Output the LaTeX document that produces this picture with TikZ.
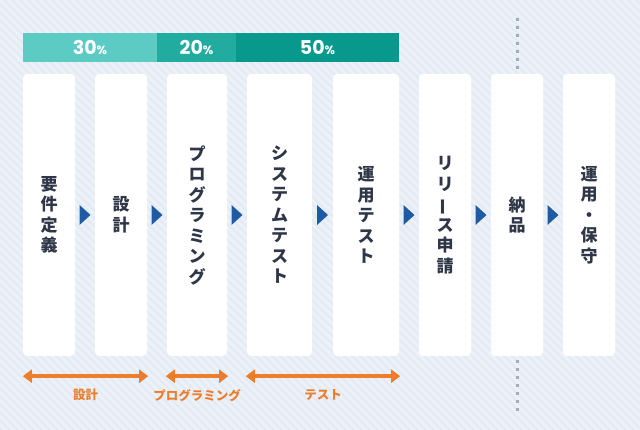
\documentclass[tikz,border=0pt]{standalone}
\usepackage{fontspec}
\usepackage{graphicx}
\newfontfamily\jpfont{Noto Sans CJK JP}
\newfontfamily\numfont{Poppins}
\usepackage{tikz}
\usetikzlibrary{calc}
\usetikzlibrary{arrows.meta}
\definecolor{bgblue}{HTML}{E4EBF4}
\definecolor{bgstripe}{HTML}{EDF2F8}
\definecolor{inkdark}{HTML}{2E3648}
\definecolor{flowblue}{HTML}{1F5BA5}
\definecolor{rangeorange}{HTML}{EE7D2B}
\definecolor{dotgray}{HTML}{A2ABB9}
\definecolor{tealA}{HTML}{5CCBC3}
\definecolor{tealB}{HTML}{22AC9F}
\definecolor{tealC}{HTML}{08998C}
\newcommand{\flowtip}[2]{\fill[flowblue] ($(#1.east)!0.5!(#2.west)$) ++(-5.5,-10) -- ++(11,10) -- ++(-11,10) -- cycle;}
\newcommand{\pct}{{\fontsize{12}{12}\selectfont\%}}
\tikzset{
  phase/.style={fill=white, rounded corners=4pt, minimum height=282pt, inner sep=0pt,
    font=\jpfont\bfseries\fontsize{17}{20.5}\selectfont, text=inkdark, align=center},
  sharebar/.style={fill=#1, minimum height=29pt, inner sep=0pt, text=white,
    font=\numfont\bfseries\fontsize{19}{19}\selectfont},
  rangearrow/.style={draw=rangeorange, line width=3.5pt,
    {Triangle[length=9pt,width=13pt]}-{Triangle[length=9pt,width=13pt]}},
  rangelabel/.style={text=rangeorange, font=\jpfont\bfseries\fontsize{12.5}{12.5}\selectfont},
  dotline/.style={draw=dotgray, line width=3pt, dash pattern=on 3pt off 5pt}
}
\begin{document}
\begin{tikzpicture}[x=1pt,y=-1pt]
        % background
        \useasboundingbox (0,0) rectangle (640,430);
        \fill[bgblue] (0,0) rectangle (640,430);
        \begin{scope}
        \clip (0,0) rectangle (640,430);
        \foreach \k in {-440,-432,...,640}
            \draw[bgstripe, line width=2.5pt] (\k,0) -- ++(430,430);
        \end{scope}

        % share bar
        \node[sharebar=tealA, minimum width=134pt] (bar30) at (90,47.5) {30\pct};
        \node[sharebar=tealB, minimum width=79pt] (bar20) at (196.5,47.5) {20\pct};
        \node[sharebar=tealC, minimum width=163pt] (bar50) at (317.5,47.5) {50\pct};

        % phases
        \node[phase, minimum width=52pt] (s1) at (49,215) {要\\件\\定\\義};
        \node[phase, minimum width=52pt] (s2) at (121,215) {設\\計};
        \node[phase, minimum width=60pt] (s3) at (197,215) {プ\\ロ\\グ\\ラ\\ミ\\ン\\グ};
        \node[phase, minimum width=65pt] (s4) at (279.5,215) {シ\\ス\\テ\\ム\\テ\\ス\\ト};
        \node[phase, minimum width=66pt] (s5) at (366,215) {運\\用\\テ\\ス\\ト};
        \node[phase, minimum width=52pt] (s6) at (445,215) {リ\\リ\\\rotatebox[origin=c]{90}{ー}\\ス\\申\\請};
        \node[phase, minimum width=52pt] (s7) at (517,215) {納\\品};
        \node[phase, minimum width=52pt] (s8) at (589,215) {運\\用\\・\\保\\守};

        \foreach \a/\b in {s1/s2,s2/s3,s3/s4,s4/s5,s5/s6,s6/s7,s7/s8}
            {\flowtip{\a}{\b}}

        % delivery line
        \draw[dotline] ($(s7.north)+(0,-56)$) -- ($(s7.north)+(0,-5)$);
        \draw[dotline] ($(s7.south)+(0,4)$) -- ($(s7.south)+(0,56)$);

        % ranges
        \coordinate (r1a) at ($(s1.south west)+(0,20)$);
        \coordinate (r1b) at ($(s2.south east)+(1,20)$);
        \coordinate (r2a) at ($(s3.south west)+(-1,20)$);
        \coordinate (r2b) at ($(s3.south east)+(1,20)$);
        \coordinate (r3a) at ($(s4.south west)+(-1,20)$);
        \coordinate (r3b) at ($(s5.south east)+(1,20)$);
        \draw[rangearrow] (r1a) -- (r1b);
        \draw[rangearrow] (r2a) -- (r2b);
        \draw[rangearrow] (r3a) -- (r3b);
        \node[rangelabel] (l1) at ($(r1a)!0.5!(r1b)+(0,19)$) {設計};
        \node[rangelabel] (l2) at ($(r2a)!0.5!(r2b)+(0,19)$) {プログラミング};
        \node[rangelabel] (l3) at ($(r3a)!0.5!(r3b)+(0,19)$) {テスト};
    \end{tikzpicture}
\end{document}
